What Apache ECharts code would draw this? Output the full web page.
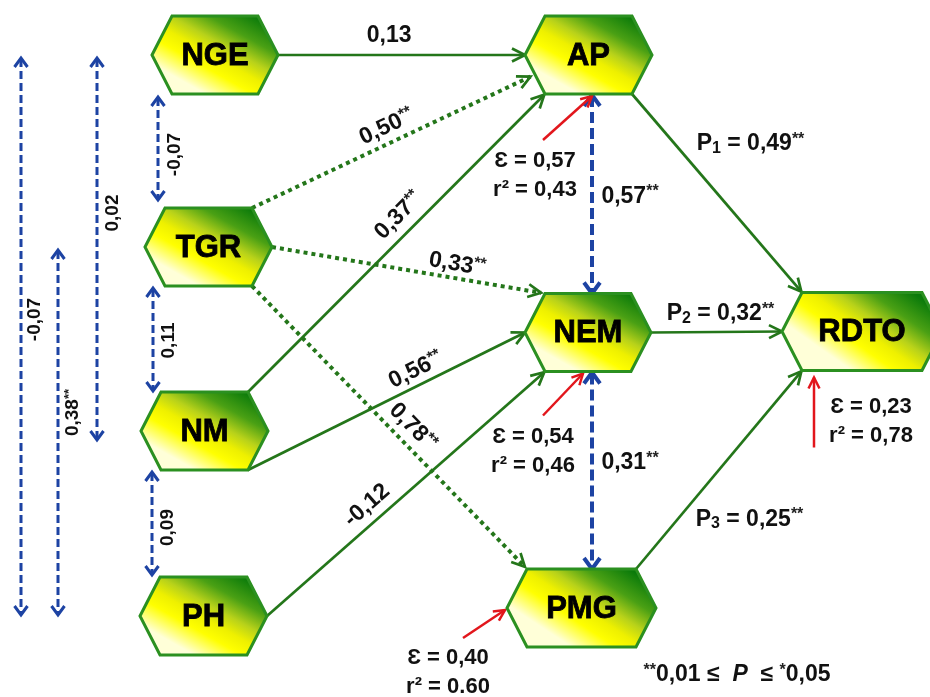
<!DOCTYPE html>
<html>
<head>
<meta charset="utf-8">
<script src="https://cdn.jsdelivr.net/npm/echarts@6/dist/echarts.min.js"></script>
<style>
  html, body { margin: 0; padding: 0; background: #ffffff; }
  #chart { width: 930px; height: 697px; }
</style>
</head>
<body>
<div id="chart"></div>
<script>
// ---- model: variables, path coefficients, correlations, residuals ----
const nodeNames = ['NGE', 'TGR', 'NM', 'PH', 'AP', 'NEM', 'PMG', 'RDTO'];

// direct (causal) paths
const pathFrom = ['NGE', 'TGR', 'NM', 'TGR', 'NM', 'TGR', 'PH', 'AP', 'NEM', 'PMG'];
const pathTo   = ['AP', 'AP', 'AP', 'NEM', 'NEM', 'PMG', 'NEM', 'RDTO', 'RDTO', 'RDTO'];
const pathCoef = [0.13, 0.50, 0.37, 0.33, 0.56, 0.78, -0.12, 0.49, 0.32, 0.25];
const pathSig  = ['', '**', '**', '**', '**', '**', '', '**', '**', '**'];
const pathName = ['', '', '', '', '', '', '', '1', '2', '3']; // index of P on RDTO paths

// correlations (double-headed)
const corrFrom = ['NGE', 'TGR', 'NM', 'NGE', 'TGR', 'NGE', 'AP', 'NEM'];
const corrTo   = ['TGR', 'NM', 'PH', 'NM', 'PH', 'PH', 'NEM', 'PMG'];
const corrCoef = [-0.07, 0.11, 0.09, 0.02, 0.38, -0.07, 0.57, 0.31];
const corrSig  = ['', '', '', '', '**', '', '**', '**'];

// residual terms of the endogenous variables
const residNode = ['AP', 'NEM', 'PMG', 'RDTO'];
const residEps  = [0.57, 0.54, 0.40, 0.23];
const residR2   = [0.43, 0.46, 0.60, 0.78];
const residR2Mark = [',', ',', '.', ','];

// ---- layout (diagram units = axis units) ----
const nodeLayout = {
  NGE:  { cx: 215,   cy: 55,    w: 126 },
  TGR:  { cx: 208.5, cy: 247,   w: 127 },
  NM:   { cx: 204.5, cy: 431,   w: 127 },
  PH:   { cx: 203.5, cy: 616,   w: 127 },
  AP:   { cx: 588.5, cy: 55,    w: 127 },
  NEM:  { cx: 588,   cy: 332.5, w: 126 },
  PMG:  { cx: 581.5, cy: 608,   w: 149 },
  RDTO: { cx: 862,   cy: 331.5, w: 160 }
};
const HEX_H = 78;
const HEX_SLANT = 20;

const pathLayout = [
  { a: 'r',  b: 'l',  dotted: false, gap: 0, t: 0.45, off: 19 },
  { a: 'tr', b: 'll', dotted: true,  gap: 5, t: 0.50, off: 16 },
  { a: 'tr', b: 'bl', dotted: false, gap: 1, t: 0.55, off: 18 },
  { a: 'r',  b: 'tl', dotted: true,  gap: 4, t: 0.67, off: 14 },
  { a: 'br', b: 'l',  dotted: false, gap: 0, t: 0.63, off: 15 },
  { a: 'br', b: 'tl', dotted: true,  gap: 3, t: 0.54, off: 17 },
  { a: 'r',  b: 'bl', dotted: false, gap: 1, t: 0.40, off: 17 },
  { a: 'br', b: 'tl', dotted: false, gap: 1, t: 0.25, flat: [76, 0] },
  { a: 'r',  b: 'l',  dotted: false, gap: 0, t: 0.50, flat: [4, -18] },
  { a: 'tr', b: 'bl', dotted: false, gap: 1, t: 0.25, flat: [72, 0] }
];

const corrLayout = [
  { x: 158, ends: ['b', 't'], pad: [3, 8],  lab: [17, 6],   vertical: true },
  { x: 153, ends: ['b', 't'], pad: [2, 1],  lab: [16, 1],   vertical: true },
  { x: 152, ends: ['b', 't'], pad: [2, 2],  lab: [16, 4],   vertical: true },
  { x: 97,  ends: ['c', 'c'], pad: [3, -9], lab: [16, -36], vertical: true },
  { x: 58,  ends: ['c', 'c'], pad: [3, 1],  lab: [15, -20], vertical: true },
  { x: 21,  ends: ['c', 'c'], pad: [3, 1],  lab: [14, -17], vertical: true },
  { x: 592, ends: ['b', 't'], pad: [1, 0],  lab: [38, 2],   vertical: false },
  { x: 592, ends: ['b', 't'], pad: [1, 0],  lab: [38, -8],  vertical: false }
];

const residLayout = [
  { at: 'b',  nudge: [3.5, 2], tail: [-49, 44], lab: [-8, 35] },
  { at: 'b',  nudge: [-5, 2],  tail: [-40, 42], lab: [-10, 36] },
  { at: 'l',  nudge: [-2, 2],  tail: [-42, 28], lab: [-15, 34] },
  { at: 'bl', nudge: [12, 7],  tail: [0, 70],   lab: [57, -26] }
];

// ---- styles ----
const FONT = '"Liberation Sans", Arial, Helvetica, sans-serif';
const GREEN = '#24761a';
const HEX_STROKE = '#2b9020';
const BLUE = '#1d43a3';
const RED = '#e2161c';
const INK = '#111111';

const fmt = (v, mark) => (v < 0 ? '-' : '') + Math.abs(v).toFixed(2).replace('.', mark || ',');

function anchor(name, key) {
  const L = nodeLayout[name];
  const hw = L.w / 2, hh = HEX_H / 2, s = HEX_SLANT;
  switch (key) {
    case 'l':  return [L.cx - hw, L.cy];
    case 'r':  return [L.cx + hw, L.cy];
    case 'tl': return [L.cx - hw + s, L.cy - hh];
    case 'tr': return [L.cx + hw - s, L.cy - hh];
    case 'bl': return [L.cx - hw + s, L.cy + hh];
    case 'br': return [L.cx + hw - s, L.cy + hh];
    case 't':  return [L.cx, L.cy - hh];
    case 'b':  return [L.cx, L.cy + hh];
    case 'll': return [L.cx - hw + s / 2, L.cy + hh / 2];
    default:   return [L.cx, L.cy];
  }
}

function hexPoints(name) {
  return ['l', 'tl', 'tr', 'r', 'br', 'bl'].map(k => anchor(name, k));
}

function chevron(tip, from, len, halfW) {
  const dx = tip[0] - from[0], dy = tip[1] - from[1];
  const d = Math.hypot(dx, dy) || 1;
  const ux = dx / d, uy = dy / d;
  const bx = tip[0] - ux * len, by = tip[1] - uy * len;
  return [[bx - uy * halfW, by + ux * halfW], tip, [bx + uy * halfW, by - ux * halfW]];
}

function labelRich(size) {
  const small = Math.round(size * 0.68);
  return {
    v:   { fontSize: size, fontWeight: 'bold', fontFamily: FONT, fill: INK, lineHeight: size + 2 },
    sup: { fontSize: small, fontWeight: 'bold', fontFamily: FONT, fill: '#222222', lineHeight: small, verticalAlign: 'top' },
    sub: { fontSize: small, fontWeight: 'bold', fontFamily: FONT, fill: INK, lineHeight: small, verticalAlign: 'bottom' },
    it:  { fontSize: size, fontWeight: 'bold', fontStyle: 'italic', fontFamily: FONT, fill: INK, lineHeight: size + 2 }
  };
}

function coefText(value, sig, pIndex) {
  let s = '';
  if (pIndex) s += '{v|P}{sub|' + pIndex + '}{v| = }';
  s += '{v|' + fmt(value) + '}';
  if (sig) s += '{sup|' + sig + '}';
  return s;
}

// green corner top-right fading to pale yellow bottom-left
const hexFill = new echarts.graphic.LinearGradient(0.8, 0, 0.45, 1, [
  { offset: 0, color: '#0a7a0a' },
  { offset: 0.25, color: '#4aa014' },
  { offset: 0.45, color: '#b8d21a' },
  { offset: 0.6, color: '#eef000' },
  { offset: 0.75, color: '#ffff00' },
  { offset: 1, color: '#ffffd8' }
]);

// ---- series ----
const nodeSeries = {
  type: 'custom',
  coordinateSystem: 'cartesian2d',
  z: 5,
  data: nodeNames.map(n => [nodeLayout[n].cx, nodeLayout[n].cy]),
  renderItem(params, api) {
    const name = nodeNames[params.dataIndex];
    const pts = hexPoints(name).map(p => api.coord(p));
    const c = api.coord([api.value(0), api.value(1)]);
    return {
      type: 'group',
      children: [
        { type: 'polygon', shape: { points: pts },
          style: { fill: hexFill, stroke: HEX_STROKE, lineWidth: 3, lineJoin: 'miter' } },
        { type: 'text', x: c[0], y: c[1] + 1,
          style: { text: name, align: 'center', verticalAlign: 'middle',
                   fontSize: 31, fontWeight: 'bold', fontFamily: FONT, fill: '#000000',
                   stroke: '#000000', lineWidth: 0.8 } }
      ]
    };
  }
};

const pathSeries = {
  type: 'custom',
  coordinateSystem: 'cartesian2d',
  z: 3,
  data: pathCoef.map((c, i) => [i, c]),
  renderItem(params, api) {
    const i = params.dataIndex;
    const lay = pathLayout[i];
    const p1 = api.coord(anchor(pathFrom[i], lay.a));
    let p2 = api.coord(anchor(pathTo[i], lay.b));
    const dx = p2[0] - p1[0], dy = p2[1] - p1[1];
    const len = Math.hypot(dx, dy);
    const ux = dx / len, uy = dy / len;
    if (lay.gap) p2 = [p2[0] - ux * lay.gap, p2[1] - uy * lay.gap];
    const lineStyle = lay.dotted
      ? { stroke: GREEN, lineWidth: 4, lineDash: [4, 4], lineCap: 'butt', fill: null }
      : { stroke: GREEN, lineWidth: 2.7, fill: null };
    const head = chevron(p2, p1, 13, 6.5);
    const pt = [p1[0] + dx * lay.t, p1[1] + dy * lay.t];
    let lx, ly, rot = 0;
    if (lay.flat) {
      lx = pt[0] + lay.flat[0];
      ly = pt[1] + lay.flat[1];
    } else {
      lx = pt[0] + uy * lay.off;
      ly = pt[1] - ux * lay.off;
      rot = -Math.atan2(uy, ux);
    }
    return {
      type: 'group',
      children: [
        { type: 'line', shape: { x1: p1[0], y1: p1[1], x2: p2[0], y2: p2[1] }, style: lineStyle },
        { type: 'polyline', shape: { points: head },
          style: { stroke: GREEN, lineWidth: 2.7, fill: null, lineJoin: 'miter' } },
        { type: 'text', x: lx, y: ly, rotation: rot,
          style: { text: coefText(api.value(1), pathSig[i], pathName[i]), rich: labelRich(23),
                   align: 'center', verticalAlign: 'middle' } }
      ]
    };
  }
};

const corrSeries = {
  type: 'custom',
  coordinateSystem: 'cartesian2d',
  z: 4,
  data: corrCoef.map((c, i) => [i, c]),
  renderItem(params, api) {
    const i = params.dataIndex;
    const lay = corrLayout[i];
    const yA = anchor(corrFrom[i], lay.ends[0])[1] + lay.pad[0];
    const yB = anchor(corrTo[i], lay.ends[1])[1] - lay.pad[1];
    const p1 = api.coord([lay.x, yA]);
    const p2 = api.coord([lay.x, yB]);
    const mid = [(p1[0] + p2[0]) / 2, (p1[1] + p2[1]) / 2];
    const size = lay.vertical ? 19 : 23;
    // the two links between the mediators are drawn heavier
    const w = lay.vertical ? 3 : 4;
    const dash = lay.vertical ? [8, 4] : [11, 5];
    const hl = lay.vertical ? 9 : 11, hw = lay.vertical ? 6.5 : 8;
    return {
      type: 'group',
      children: [
        { type: 'line', shape: { x1: p1[0], y1: p1[1] + 1, x2: p2[0], y2: p2[1] - 1 },
          style: { stroke: BLUE, lineWidth: w, lineDash: dash, fill: null } },
        { type: 'polyline', shape: { points: chevron(p1, p2, hl, hw) },
          style: { stroke: BLUE, lineWidth: w, fill: null } },
        { type: 'polyline', shape: { points: chevron(p2, p1, hl, hw) },
          style: { stroke: BLUE, lineWidth: w, fill: null } },
        { type: 'text', x: mid[0] + lay.lab[0], y: mid[1] + lay.lab[1],
          rotation: lay.vertical ? Math.PI / 2 : 0,
          style: { text: coefText(api.value(1), corrSig[i], ''), rich: labelRich(size),
                   align: 'center', verticalAlign: 'middle' } }
      ]
    };
  }
};

const residSeries = {
  type: 'custom',
  coordinateSystem: 'cartesian2d',
  z: 4,
  data: residEps.map((e, i) => [e, residR2[i]]),
  renderItem(params, api) {
    const i = params.dataIndex;
    const lay = residLayout[i];
    const a = anchor(residNode[i], lay.at);
    const tipU = [a[0] + lay.nudge[0], a[1] + lay.nudge[1]];
    const tailU = [tipU[0] + lay.tail[0], tipU[1] + lay.tail[1]];
    const tip = api.coord(tipU);
    const tail = api.coord(tailU);
    const txt = 'Ɛ = ' + fmt(api.value(0)) + '\nr² = ' + fmt(api.value(1), residR2Mark[i]);
    return {
      type: 'group',
      children: [
        { type: 'line', shape: { x1: tail[0], y1: tail[1], x2: tip[0], y2: tip[1] },
          style: { stroke: RED, lineWidth: 2.5, fill: null } },
        { type: 'polyline', shape: { points: chevron(tip, tail, 11, 5.5) },
          style: { stroke: RED, lineWidth: 2.5, fill: null } },
        { type: 'text', x: tail[0] + lay.lab[0], y: tail[1] + lay.lab[1],
          style: { text: txt, align: 'center', verticalAlign: 'middle', lineHeight: 29,
                   fontSize: 22, fontWeight: 'bold', fontFamily: FONT, fill: INK } }
      ]
    };
  }
};

const chart = echarts.init(document.getElementById('chart'), null, { renderer: 'canvas' });
chart.setOption({
  animation: false,
  backgroundColor: '#ffffff',
  grid: { left: 0, right: 0, top: 0, bottom: 0 },
  xAxis: { type: 'value', min: 0, max: 930, show: false },
  yAxis: { type: 'value', min: 0, max: 697, inverse: true, show: false },
  graphic: [{
    type: 'text', x: 737, y: 675, z: 10,
    style: {
      text: '{sup|**}{v|0,01 ≤  }{it|P}{v|  ≤ }{sup|*}{v|0,05}',
      rich: labelRich(23), align: 'center', verticalAlign: 'middle'
    }
  }],
  series: [pathSeries, corrSeries, residSeries, nodeSeries]
});
</script>
</body>
</html>
